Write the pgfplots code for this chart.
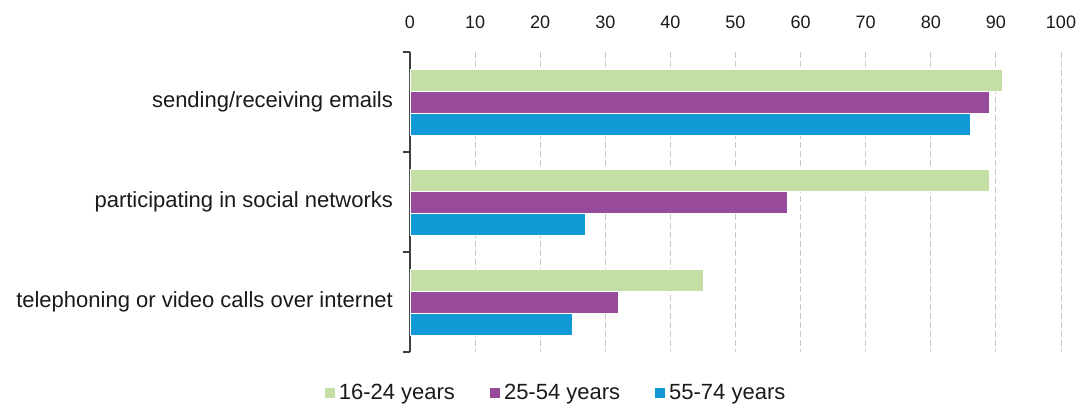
\documentclass[border=0pt]{standalone}
\usepackage{fontspec}
\setmainfont{Liberation Sans}
\usepackage{pgfplots}
\pgfplotsset{compat=1.18}
\definecolor{cgreen}{HTML}{C4DFA6}
\definecolor{cpurple}{HTML}{984B9B}
\definecolor{cblue}{HTML}{129AD6}
\definecolor{cgrid}{HTML}{C8C8C8}
\definecolor{caxis}{HTML}{404040}
\definecolor{ctext}{HTML}{1A1A1A}

\begin{document}
\begin{tikzpicture}
\begin{axis}[
    name=ax,
    scale only axis,
    width=325.5pt, height=150pt,
    xbar, bar width=11pt,
    xmin=0, xmax=100,
    xtick={0,10,...,100},
    ymin=-0.5, ymax=2.5,
    y dir=reverse,
    ytick={0,1,2},
    yticklabels={sending/receiving emails, participating in social networks, telephoning or video calls over internet},
    minor ytick={-0.5,0.5,1.5,2.5},
    axis y line*=left,
    axis x line*=top,
    axis line style={-, draw=caxis, line width=0.75pt},
    x axis line style={draw=none},
    xticklabel pos=upper,
    tick align=outside,
    major tick length=0pt,
    minor tick length=3.5pt,
    minor tick style={draw=caxis, line width=0.75pt},
    xmajorgrids,
    grid style={cgrid, dash pattern=on 3pt off 1.5pt, line width=0.5pt},
    /pgf/number format/assume math mode=true,
    xticklabel style={font=\fontsize{9}{11}\selectfont, text=ctext, yshift=8pt},
    yticklabel style={font=\fontsize{11}{13}\selectfont, text=ctext, xshift=-5pt},
    legend style={at={(0.226,-0.137)}, anchor=center, draw=none, fill=none,
        legend columns=3, font=\fontsize{11}{13}\selectfont, text=ctext,
        /tikz/every even column/.append style={column sep=15.5pt}},
    legend image code/.code={\fill[#1,draw=none] (0pt,-2.5pt) rectangle (5pt,2.5pt);},
]
\addplot[fill=cgreen, draw=white, line width=0.3pt, bar shift=11pt] coordinates {(91,0) (89,1) (45,2)};
\addplot[fill=cpurple, draw=white, line width=0.3pt, bar shift=0pt] coordinates {(89,0) (58,1) (32,2)};
\addplot[fill=cblue, draw=white, line width=0.3pt, bar shift=-11pt] coordinates {(86,0) (27,1) (25,2)};
\legend{16-24 years, 25-54 years, 55-74 years}
\end{axis}
\pgfresetboundingbox
\path[use as bounding box] (ax.south west) ++(-205pt,-25.5pt) rectangle ++(540.5pt,201.5pt);
\end{tikzpicture}
\end{document}
